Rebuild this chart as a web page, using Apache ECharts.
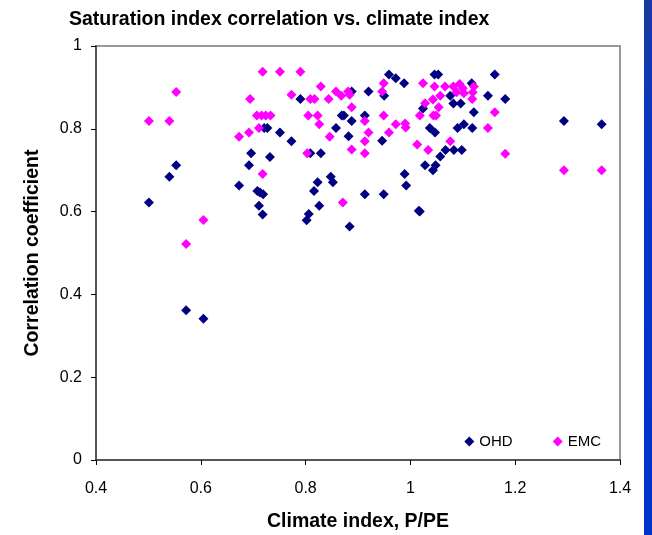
<!DOCTYPE html>
<html>
<head>
<meta charset="utf-8">
<script src="https://cdn.jsdelivr.net/npm/echarts@6/dist/echarts.min.js"></script>
<style>
  html, body { margin: 0; padding: 0; background: #fff; }
  #chart_main { width: 652px; height: 535px; }
</style>
</head>
<body>
<div id="chart_main"></div>
<script>
  // climate index P/PE (x) and correlation coefficient (y)
  let ohdX = [0.501, 0.540, 0.553, 0.572, 0.605, 0.673, 0.692, 0.696, 0.708, 0.713,
    0.719, 0.711, 0.718, 0.721, 0.727, 0.732, 0.751, 0.773, 0.790, 0.809,
    0.829, 0.802, 0.806, 0.816, 0.823, 0.826, 0.848, 0.852, 0.858, 0.869,
    0.873, 0.882, 0.884, 0.888, 0.888, 0.913, 0.913, 0.920, 0.946, 0.949,
    0.950, 0.959, 0.972, 0.988, 0.989, 0.992, 1.016, 1.018, 1.024, 1.028,
    1.037, 1.043, 1.047, 1.048, 1.046, 1.053, 1.057, 1.067, 1.076, 1.082,
    1.083, 1.090, 1.096, 1.098, 1.102, 1.117, 1.118, 1.121, 1.148, 1.161,
    1.181, 1.293, 1.365]
  let ohdY = [0.622, 0.684, 0.712, 0.362, 0.341, 0.663, 0.712, 0.741, 0.650, 0.646,
    0.642, 0.614, 0.593, 0.802, 0.802, 0.732, 0.791, 0.770, 0.872, 0.741,
    0.741, 0.579, 0.594, 0.650, 0.671, 0.614, 0.684, 0.671, 0.802, 0.832,
    0.832, 0.782, 0.564, 0.819, 0.890, 0.832, 0.642, 0.890, 0.771, 0.642,
    0.880, 0.931, 0.922, 0.910, 0.691, 0.663, 0.602, 0.600, 0.849, 0.712,
    0.802, 0.700, 0.791, 0.712, 0.931, 0.931, 0.733, 0.749, 0.880, 0.861,
    0.749, 0.802, 0.861, 0.749, 0.811, 0.910, 0.802, 0.840, 0.880, 0.931,
    0.872, 0.819, 0.811]

  let emcX = [0.501, 0.540, 0.553, 0.572, 0.605, 0.673, 0.692, 0.694, 0.711, 0.707,
    0.716, 0.724, 0.733, 0.718, 0.718, 0.751, 0.790, 0.773, 0.803, 0.805,
    0.809, 0.817, 0.823, 0.826, 0.829, 0.844, 0.846, 0.858, 0.868, 0.871,
    0.881, 0.884, 0.888, 0.888, 0.913, 0.913, 0.913, 0.920, 0.946, 0.949,
    0.949, 0.959, 0.972, 0.990, 0.991, 1.013, 1.018, 1.024, 1.028, 1.034,
    1.043, 1.044, 1.049, 1.046, 1.054, 1.057, 1.066, 1.076, 1.082, 1.088,
    1.094, 1.100, 1.102, 1.118, 1.119, 1.121, 1.148, 1.161, 1.181, 1.293,
    1.365]
  let emcY = [0.819, 0.819, 0.889, 0.522, 0.580, 0.781, 0.791, 0.872, 0.802, 0.832,
    0.832, 0.832, 0.832, 0.938, 0.691, 0.938, 0.938, 0.882, 0.741, 0.832,
    0.872, 0.872, 0.832, 0.811, 0.902, 0.872, 0.781, 0.890, 0.880, 0.622,
    0.890, 0.882, 0.852, 0.750, 0.819, 0.770, 0.741, 0.791, 0.890, 0.910,
    0.832, 0.791, 0.811, 0.813, 0.803, 0.762, 0.832, 0.910, 0.862, 0.749,
    0.871, 0.832, 0.832, 0.902, 0.852, 0.880, 0.902, 0.770, 0.902, 0.888,
    0.908, 0.898, 0.886, 0.872, 0.888, 0.902, 0.802, 0.840, 0.740, 0.700,
    0.700]

  let pairs = (xs, ys) => xs.map((x, i) => [x, ys[i]])

  let chart = echarts.init(document.getElementById('chart_main'))
  let options = {
    backgroundColor: '#fff',
    animation: false,
    title: {
      text: 'Saturation index correlation vs. climate index',
      left: 64,
      top: 5,
      textStyle: { fontFamily: 'Liberation Sans, Arial', fontSize: 19.5, fontWeight: 'bold', color: '#000' }
    },
    legend: {
      right: 46,
      top: 429,
      itemWidth: 10,
      itemHeight: 10,
      itemGap: 40,
      textStyle: { fontFamily: 'Liberation Sans, Arial', fontSize: 15, color: '#000' },
      data: [
        { name: 'OHD', icon: 'diamond' },
        { name: 'EMC', icon: 'diamond' }
      ]
    },
    grid: {
      left: 96,
      right: 32,
      top: 46,
      bottom: 75,
      outerBoundsMode: 'none',
      show: true,
      borderColor: '#999',
      borderWidth: 2
    },
    xAxis: {
      type: 'value',
      min: 0.4,
      max: 1.4,
      interval: 0.2,
      name: 'Climate index, P/PE',
      nameLocation: 'middle',
      nameGap: 52,
      nameTextStyle: { fontFamily: 'Liberation Sans, Arial', fontSize: 19.5, fontWeight: 'bold', color: '#000' },
      axisLine: { lineStyle: { color: '#555', width: 2 } },
      axisTick: { length: 5, lineStyle: { color: '#000' } },
      axisLabel: { fontFamily: 'Liberation Sans, Arial', fontSize: 16, color: '#000', margin: 21 },
      splitLine: { show: false }
    },
    yAxis: {
      type: 'value',
      min: 0,
      max: 1,
      interval: 0.2,
      name: 'Correlation coefficient',
      nameLocation: 'middle',
      nameGap: 53,
      nameTextStyle: { fontFamily: 'Liberation Sans, Arial', fontSize: 19.5, fontWeight: 'bold', color: '#000' },
      axisLine: { show: true, lineStyle: { color: '#555', width: 2 } },
      axisTick: { show: true, length: 5, lineStyle: { color: '#000' } },
      axisLabel: { fontFamily: 'Liberation Sans, Arial', fontSize: 16, color: '#000', margin: 14 },
      splitLine: { show: false }
    },
    series: [
      {
        name: 'OHD',
        type: 'scatter',
        symbol: 'diamond',
        symbolSize: 10,
        itemStyle: { color: '#000080', opacity: 1 },
        data: pairs(ohdX, ohdY)
      },
      {
        name: 'EMC',
        type: 'scatter',
        symbol: 'diamond',
        symbolSize: 10,
        itemStyle: { color: '#ff00ff', opacity: 1 },
        data: pairs(emcX, emcY)
      }
    ],
    graphic: [
      {
        type: 'rect',
        right: 0,
        top: 0,
        shape: { width: 8, height: 535 },
        style: {
          fill: new echarts.graphic.LinearGradient(0, 0, 0, 1, [
            { offset: 0, color: '#1a3a9c' },
            { offset: 0.3, color: '#0536c8' },
            { offset: 1, color: '#0033cc' }
          ])
        }
      }
    ]
  }
  chart.setOption(options)
</script>
</body>
</html>
